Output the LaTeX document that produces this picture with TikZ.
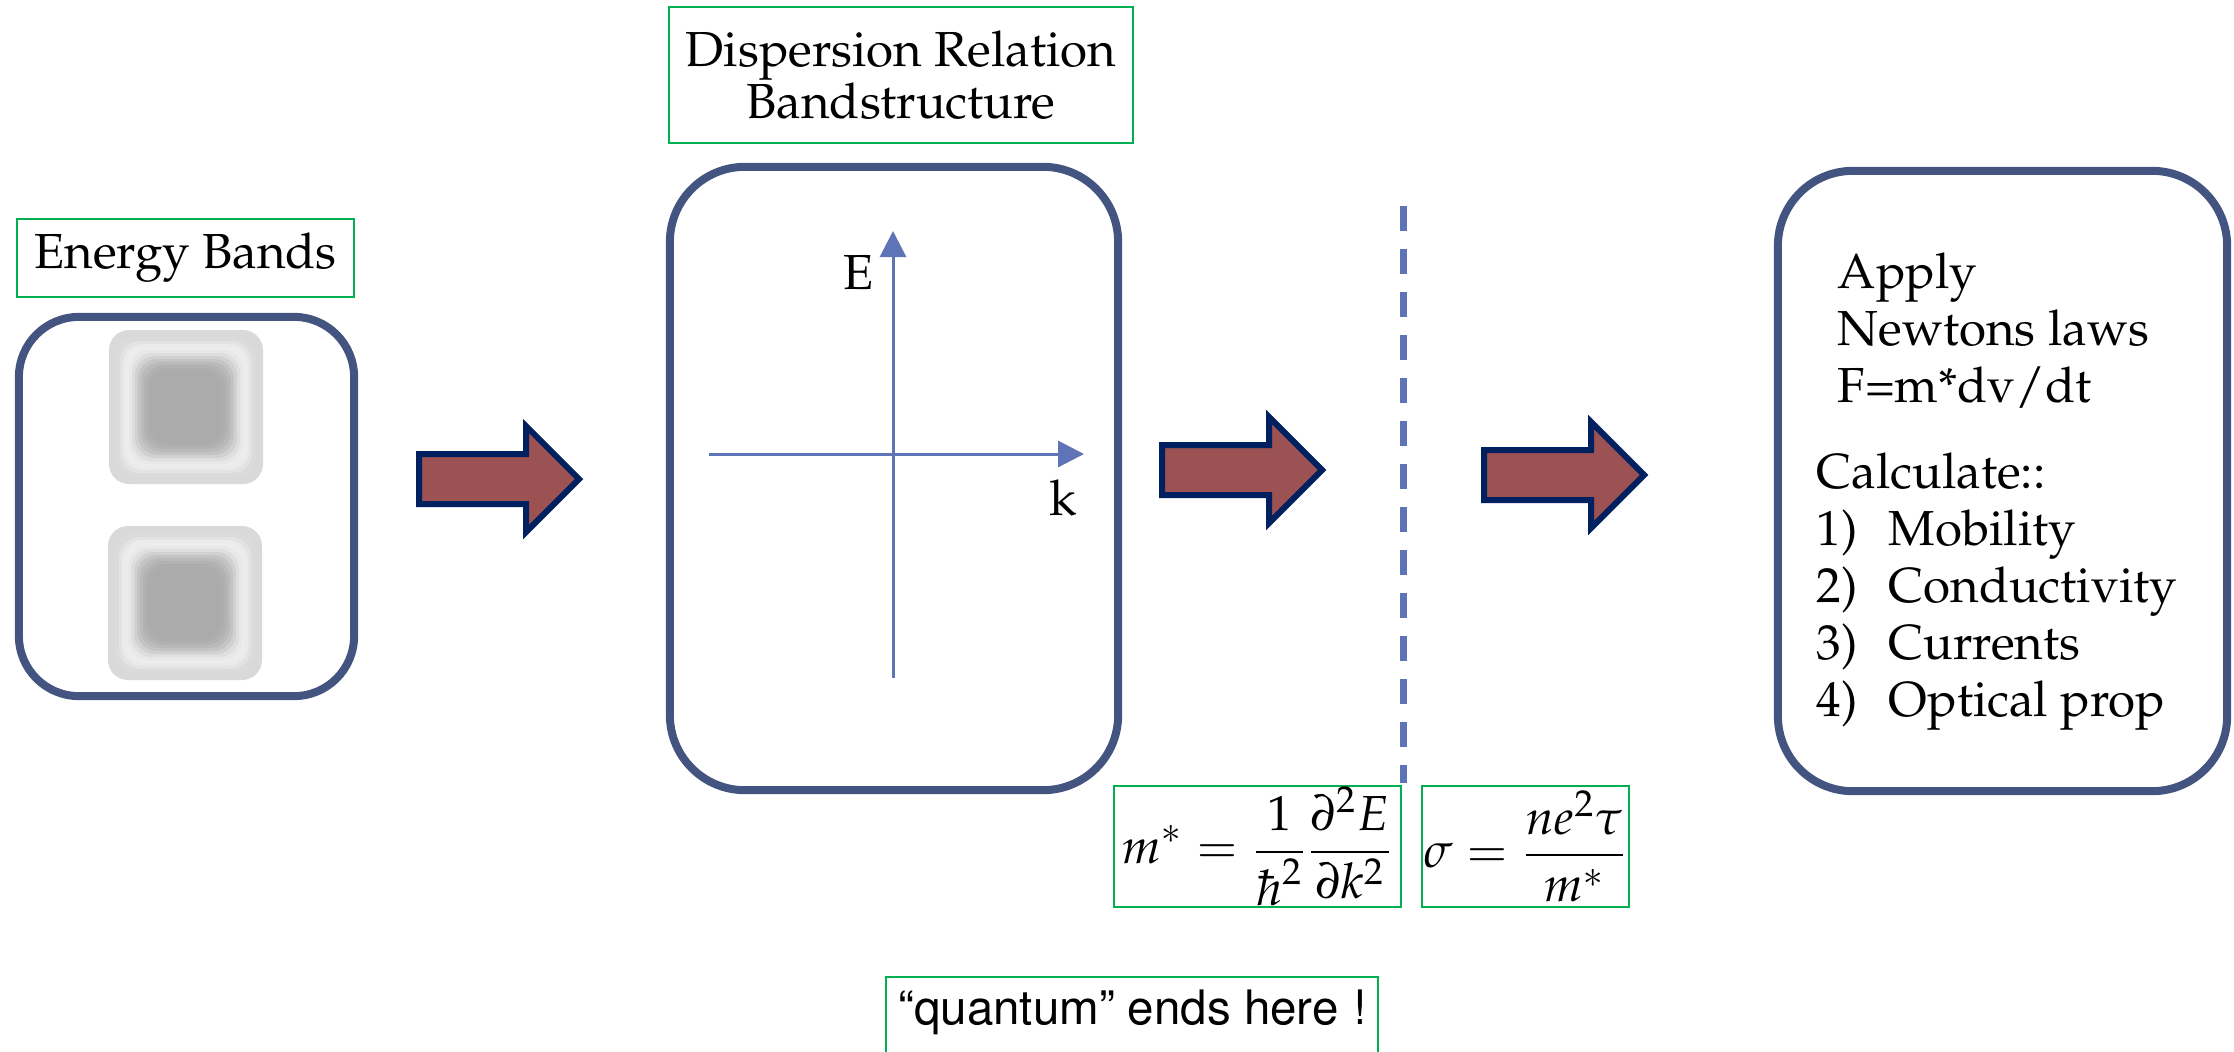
\documentclass[tikz,border=0pt]{standalone}
\usepackage[T1]{fontenc}
\usepackage{mathpazo}
\usepackage{xcolor}
\usepackage{tikz}
\usetikzlibrary{arrows.meta, positioning}

\definecolor{boxblue}{RGB}{68,84,128}
\definecolor{axisblue}{RGB}{94,116,182}
\definecolor{arrowfill}{RGB}{156,82,82}
\definecolor{arrownavy}{RGB}{0,32,96}
\definecolor{taggreen}{RGB}{0,176,80}

\begin{document}
\begin{tikzpicture}[
        x=0.01cm, y=-0.01cm,
        every node/.style={
            font=\fontsize{14}{16.2}\selectfont
        },
        roundbox/.style={
            draw=boxblue,
            line width=0.08cm,
            rounded corners=0.75cm
        },
        tagbox/.style={
            draw=taggreen,
            line width=0.02cm,
            align=center,
            inner sep=0
        },
        axisline/.style={
            draw=axisblue,
            line width=0.03cm,
            -{Triangle[length=0.26cm, width=0.26cm]}
        },
        cutline/.style={
            draw=axisblue,
            line width=0.07cm,
            dash pattern=on 0.25cm off 0.18cm
        },
        bigarrow/.pic={
            \draw[arrownavy, fill=arrowfill, line width=0.06cm, line join=miter]
                (0,-25) -- (107,-25) -- (107,-53) -- (160,0)
                -- (107,53) -- (107,25) -- (0,25) -- cycle;
        },
        bandblob/.pic={
            \foreach \inset/\lvl in {0/85, 7/86, 11/89, 14/92, 17/93, 20/91,
                                     23/87, 26/82, 29/77, 32/73, 35/70, 38/68, 41/67}
                \fill[white!\lvl!black, rounded corners=0.2cm]
                    (-77+\inset,-77+\inset) rectangle (77-\inset,77-\inset);
        }
    ]

    \useasboundingbox (0,0) rectangle (2234,1051);

    % Energy bands
    \node[tagbox, minimum width=3.37cm, minimum height=0.78cm] (bandstag) at (185.5,258) {Energy Bands};
    \node[roundbox, rounded corners=0.6cm, minimum width=3.35cm, minimum height=3.79cm] (bands) at (186.5,506.5) {};
    \pic at (186,407) {bandblob};
    \pic at (185,603) {bandblob};

    % Dispersion relation
    \node[tagbox, minimum width=4.64cm, minimum height=1.36cm,
          font=\fontsize{14}{14.8}\selectfont] (disptag) at (901,75) {Dispersion Relation\\Bandstructure};
    \node[roundbox, minimum width=4.48cm, minimum height=6.23cm] (disp) at (894,478.5) {};

    \coordinate (ebot) at (893,678);
    \coordinate (etop) at (893,231);
    \coordinate (kleft) at (709,454);
    \coordinate (kright) at (1084,454);
    \draw[axisline] (ebot) -- (etop);
    \draw[axisline] (kleft) -- (kright);
    \node[anchor=base] (elabel) at (859,289) {E};
    \node[anchor=base] (klabel) at (1063,515) {k};

    % Newton box
    \node[roundbox, minimum width=4.49cm, minimum height=6.20cm] (newton) at (2002.5,481) {};
    \node[anchor=north west, align=left, inner sep=0] (applytxt) at (1837,252) {
        Apply\\
        Newtons laws\\
        F=m*dv/dt
    };
    \node[anchor=north west, align=left, inner sep=0] (calctxt) at (1816,452) {
        Calculate::\\
        \makebox[0.72cm][l]{1)}Mobility\\
        \makebox[0.72cm][l]{2)}Conductivity\\
        \makebox[0.72cm][l]{3)}Currents\\
        \makebox[0.72cm][l]{4)}Optical prop
    };

    % Block arrows
    \pic at (419,479) {bigarrow};
    \pic at (1162,470) {bigarrow};
    \pic at (1484,475) {bigarrow};

    % Quantum cut
    \coordinate (cuttop) at (1403,206);
    \coordinate (cutbot) at (1403,783);
    \draw[cutline] (cuttop) -- (cutbot);

    % Formulas
    \node[tagbox, minimum width=2.87cm, minimum height=1.21cm] (masstag) at (1257.5,846.5)
        {$\displaystyle m^* = \frac{1}{\hbar^2}\frac{\partial^2 E}{\partial k^2}$};
    \node[tagbox, minimum width=2.07cm, minimum height=1.21cm, right=0.19cm of masstag] (sigmatag)
        {$\displaystyle \sigma = \frac{n e^2 \tau}{m^*}$};

    \node[tagbox, anchor=north, minimum width=4.92cm, text height=0.47cm, text depth=0.53cm,
          font=\fontfamily{phv}\fontsize{13.5}{16}\selectfont] (quantumtag) at (1132,976)
        {``quantum'' ends here !};

    \end{tikzpicture}
\end{document}
